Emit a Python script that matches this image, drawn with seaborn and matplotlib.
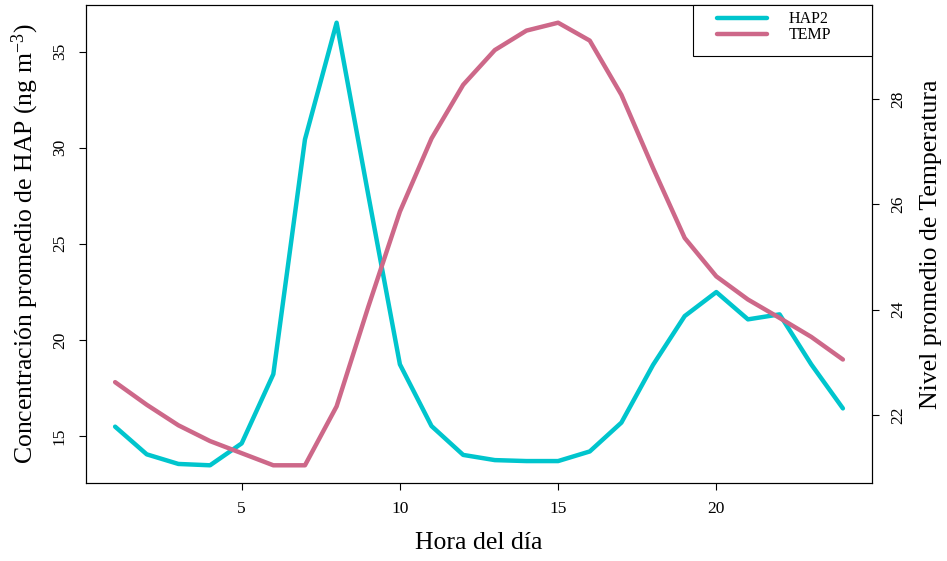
import pandas as pd
import matplotlib.pyplot as plt
import seaborn as sns
from matplotlib.patches import Rectangle

# hourly means
hora = list(range(1, 25))
hap2 = [15.49, 14.05, 13.55, 13.48, 14.62, 18.22, 30.43, 36.50, 27.55, 18.73, 15.52, 14.02,
        13.75, 13.70, 13.70, 14.20, 15.70, 18.70, 21.24, 22.49, 21.07, 21.33, 18.73, 16.44]
temp = [22.62, 22.19, 21.80, 21.50, 21.27, 21.04, 21.04, 22.16, 24.05, 25.86, 27.25, 28.27,
        28.93, 29.30, 29.45, 29.11, 28.08, 26.69, 25.36, 24.63, 24.19, 23.84, 23.48, 23.05]
x_ticks = [5, 10, 15, 20]
hap_ticks = [15, 20, 25, 30, 35]
temp_ticks = [22, 24, 26, 28]

df = pd.DataFrame({"hora": hora, "HAP2": hap2, "TEMP": temp})

sns.set_style("white")
plt.rcParams["font.family"] = ["Liberation Serif", "DejaVu Serif"]
plt.rcParams["mathtext.fontset"] = "custom"
plt.rcParams["mathtext.rm"] = "Liberation Serif"
plt.rcParams["mathtext.default"] = "regular"
plt.rcParams["text.color"] = "black"
plt.rcParams["axes.labelcolor"] = "black"
plt.rcParams["xtick.color"] = "black"
plt.rcParams["ytick.color"] = "black"

c_hap = "#00C5CD"
c_temp = "#CD6889"

fig = plt.figure(figsize=(9.47, 5.61), dpi=100)
ax = fig.add_axes([86 / 947, 1 - 483 / 561, 786 / 947, 478 / 561])
ax2 = ax.twinx()

sns.lineplot(data=df, x="hora", y="HAP2", ax=ax, color=c_hap, linewidth=3.2, label="HAP2", legend=False)
sns.lineplot(data=df, x="hora", y="TEMP", ax=ax2, color=c_temp, linewidth=3.2, label="TEMP", legend=False)

# R style 4% padding
def pad(v):
    r = max(v) - min(v)
    return min(v) - 0.04 * r, max(v) + 0.04 * r

ax.set_xlim(pad(hora))
ax.set_ylim(pad(hap2))
ax2.set_ylim(pad(temp))
ax.set_xticks(x_ticks)
ax.set_yticks(hap_ticks)
ax2.set_yticks(temp_ticks)

for a in (ax, ax2):
    for s in a.spines.values():
        s.set_visible(True)
        s.set_linewidth(0.8)
        s.set_color("black")

ax.tick_params(axis="x", direction="out", length=5, width=0.8, labelsize=12.5, pad=8, bottom=True)
ax.tick_params(axis="y", direction="out", length=5, width=0.8, labelsize=12.5, pad=8, left=True, labelrotation=90)
ax2.tick_params(axis="y", direction="out", length=5, width=0.8, labelsize=12.5, pad=8, right=True, labelrotation=90)
for lab in ax.get_yticklabels() + ax2.get_yticklabels():
    lab.set_va("center")

ax.set_xlabel("Hora del día", fontsize=18.5, labelpad=11)
ax.set_ylabel(r"Concentración promedio de HAP (ng m$^{-3}$)", fontsize=18.5, labelpad=8)
ax2.set_ylabel("Nivel promedio de Temperatura", fontsize=18.5, labelpad=10)

# legend box like R's legend("topright")
h1, l1 = ax.get_legend_handles_labels()
h2, l2 = ax2.get_legend_handles_labels()
leg = ax2.legend(h1 + h2, l1 + l2, loc="upper left", bbox_to_anchor=(0.803, 0.987),
                 borderaxespad=0, borderpad=0, fontsize=11.5, handlelength=3.1, handletextpad=1.35,
                 labelspacing=0.0, frameon=False)
ax2.add_patch(Rectangle((0.772, 0.893), 0.228, 0.107, transform=ax2.transAxes, fill=True,
                        facecolor="white", edgecolor="black", linewidth=0.8, zorder=4, clip_on=False))
leg.set_zorder(5)

fig.savefig("out.png", dpi=100)
